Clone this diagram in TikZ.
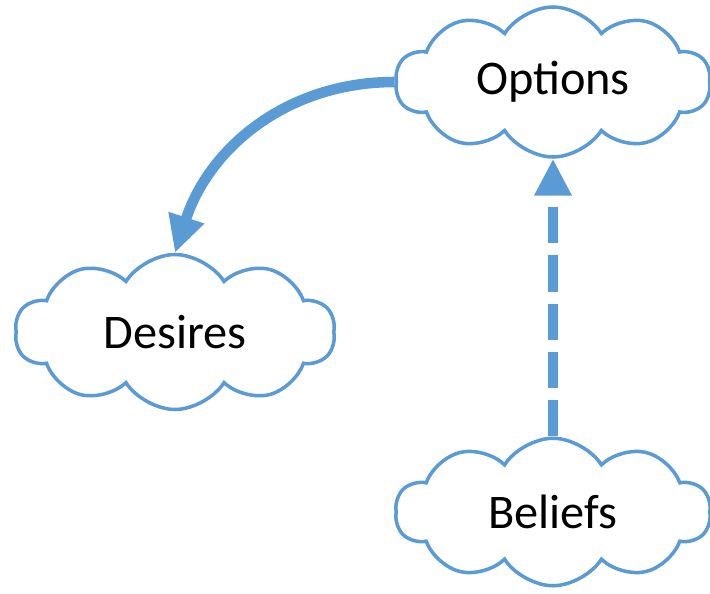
\documentclass[tikz,border=0pt]{standalone}
\usepackage{fontspec}
\setmainfont{Carlito}
\usepackage{tikz}
\usetikzlibrary{arrows.meta, positioning, shapes.symbols}
\definecolor{cloudblue}{HTML}{5B9BD5}

\begin{document}
\begin{tikzpicture}[
      thought/.style={cloud, cloud puffs=10, cloud puff arc=115, aspect=2.1, draw=cloudblue, line width=2pt, fill=white, minimum width=6.3cm, minimum height=3cm, font=\fontsize{27.5}{33}\selectfont},
      arrow/.style={-{Triangle[length=21pt, width=20pt]}, line width=6pt, draw=cloudblue},
      dash_arrow/.style={arrow, dash pattern=on 20.5pt off 7pt}
    ]

      % Fix the page size
      \useasboundingbox (0,0) rectangle (14.2,-11.86);

      % Options cloud
      \node[thought] (options) at (11.06,-1.64) {Options};

      % Desires cloud
      \node[thought, minimum width=6.4cm, minimum height=3.1cm] (desires) at ([xshift=-7.56cm, yshift=-5cm]options.center) {Desires};

      % Beliefs cloud
      \node[thought, minimum height=2.95cm] (beliefs) at ([yshift=-8.6cm]options.center) {Beliefs};

      % Arrow - Options to Desires
      \draw[arrow] (options.west) to[out=180, in=72] (desires.north);

      % Arrow - Beliefs to Options (dashed)
      \draw[dash_arrow] (beliefs.north) -- (options.south);

    \end{tikzpicture}
\end{document}
